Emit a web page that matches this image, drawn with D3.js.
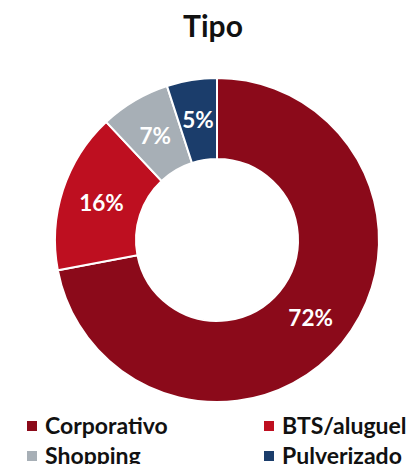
<!DOCTYPE html>
<html>
<head>
<meta charset="utf-8">
<script src="https://cdn.jsdelivr.net/npm/d3@7"></script>
<style>
  body { margin: 0; background: #fff; }
  svg { display: block; font-family: Lato, "Open Sans", sans-serif; }
</style>
</head>
<body>
<div id="chart"></div>
<script>
var categories = ["Corporativo", "BTS/aluguel", "Shopping", "Pulverizado"];
var values = [72, 16, 7, 5];
var colors = ["#8b0a1a", "#be0f20", "#a7afb6", "#1b3d6b"];

var width = 408, height = 464;
var cx = 217, cy = 240, outer = 162, inner = 81;

var svg = d3.select("#chart").append("svg")
    .attr("width", width)
    .attr("height", height);

svg.append("text")
    .attr("x", 213)
    .attr("y", 37)
    .attr("text-anchor", "middle")
    .attr("font-size", 30)
    .attr("font-weight", "bold")
    .attr("fill", "#111")
    .text("Tipo");

var data = categories.map(function(c, i) { return {name: c, value: values[i], color: colors[i]}; });

var pie = d3.pie().sort(null).value(function(d) { return d.value; });
var arc = d3.arc().innerRadius(inner).outerRadius(outer);
var labelArc = d3.arc().innerRadius((inner + outer) / 2).outerRadius((inner + outer) / 2);

var g = svg.append("g").attr("transform", "translate(" + cx + "," + cy + ")");

var slices = g.selectAll(".slice")
    .data(pie(data))
  .enter().append("g")
    .attr("class", "slice");

slices.append("path")
    .attr("d", arc)
    .attr("fill", function(d) { return d.data.color; })
    .attr("stroke", "#fff")
    .attr("stroke-width", 2);

slices.append("text")
    .attr("transform", function(d) { return "translate(" + labelArc.centroid(d) + ")"; })
    .attr("text-anchor", "middle")
    .attr("dy", "0.36em")
    .attr("font-size", 22.5)
    .attr("font-weight", "bold")
    .attr("fill", "#fff")
    .text(function(d) { return d.data.value + "%"; });

// legend, two columns
var legend = svg.selectAll(".legend")
    .data(data)
  .enter().append("g")
    .attr("class", "legend")
    .attr("transform", function(d, i) {
        var x = i % 2 === 0 ? 27 : 264;
        var y = 434 + Math.floor(i / 2) * 30;
        return "translate(" + x + "," + y + ")";
    });

legend.append("rect")
    .attr("x", 0)
    .attr("y", -13)
    .attr("width", 10)
    .attr("height", 10)
    .attr("fill", function(d) { return d.color; });

legend.append("text")
    .attr("x", 18)
    .attr("y", 0)
    .attr("font-size", 23)
    .attr("font-weight", "bold")
    .attr("fill", "#111")
    .text(function(d) { return d.name; });
</script>
</body>
</html>
